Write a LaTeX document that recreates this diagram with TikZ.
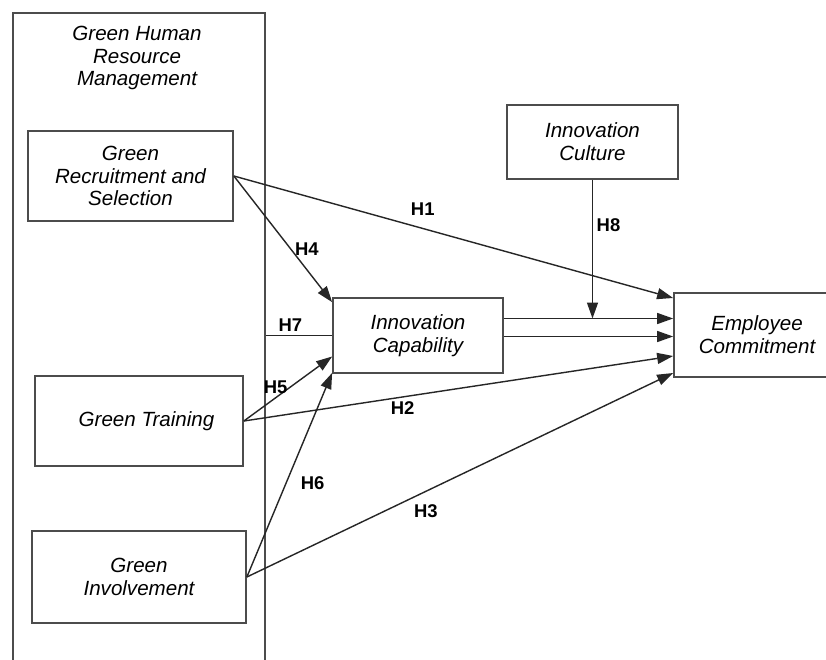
\documentclass[tikz,border=0pt]{standalone}
\usepackage{fontspec}
\setmainfont{Liberation Sans}
\usetikzlibrary{arrows.meta,calc}
\tikzset{
  box/.style={draw=black!70, line width=1pt, align=center, font=\fontsize{11.7}{13}\selectfont\itshape, inner sep=2pt},
  arr/.style={draw=black!85, line width=.8pt, -{Triangle[length=3.2mm,width=2.2mm]}},
  ln/.style={draw=black!85, line width=.8pt},
  hyp/.style={font=\fontsize{10.5}{12}\selectfont\bfseries, inner sep=2pt}
}
\begin{document}
\begin{tikzpicture}[x=0.02cm, y=-0.02cm]
  \clip (0,0) rectangle (826,660);
  \fill[white] (0,0) rectangle (826,660);

  \node[box, minimum width=5.04cm, minimum height=13.4cm] (GHRM) at (139,348) {};
  \node[align=center, font=\fontsize{11.7}{13}\selectfont\itshape] (title) at (137,58) {Green Human\\Resource\\Management};

  \node[box, minimum width=4.1cm, minimum height=1.8cm] (GRS) at (130.5,176) {Green\\Recruitment and\\Selection};
  \node[box, minimum width=4.16cm, minimum height=1.8cm] (GT) at (139,421) {\hspace{.3cm}Green Training};
  \node[box, minimum width=4.28cm, minimum height=1.84cm] (GI) at (139,577) {Green\\Involvement};
  \node[box, minimum width=3.4cm, minimum height=1.5cm] (IC) at (418,335.5) {Innovation\\Capability};
  \node[box, minimum width=3.42cm, minimum height=1.48cm] (ICu) at (592.5,142) {Innovation\\Culture};
  \node[box, minimum width=3.32cm, minimum height=1.68cm] (EC) at (757,335) {Employee\\Commitment};

  \draw[arr] (GRS.east) to node[hyp, pos=.43, above=5pt] {H1} ($(EC.west)+(0,-37)$);
  \draw[arr] (GRS.east) to node[hyp, pos=.58, right] {H4} ($(IC.north west)+(0,5)$);
  \draw[ln] (IC.west -| GHRM.east) to node[hyp, pos=.37, above] {H7} (IC.west);
  \draw[arr] (GT.east) to node[hyp, pos=.36, above] {H5} ($(IC.west)+(0,21)$);
  \draw[arr] (GI.east) to node[hyp, pos=.46, right=6pt] {H6} ($(IC.south west)+(0,-1)$);
  \draw[arr] (GT.east) to node[hyp, pos=.37, below] {H2} ($(EC.west)+(0,21)$);
  \draw[arr] (GI.east) to node[hyp, pos=.42, below=5pt] {H3} ($(EC.west)+(0,38)$);

  \draw[arr] ($(IC.east)+(0,-17)$) coordinate (ict) -- (ict -| EC.west);
  \draw[arr] ($(IC.east)+(0,1)$) coordinate (icb) -- (icb -| EC.west);
  \draw[arr] (ICu.south) to node[hyp, pos=.33, right] {H8} (ICu.south |- ict);
\end{tikzpicture}
\end{document}
